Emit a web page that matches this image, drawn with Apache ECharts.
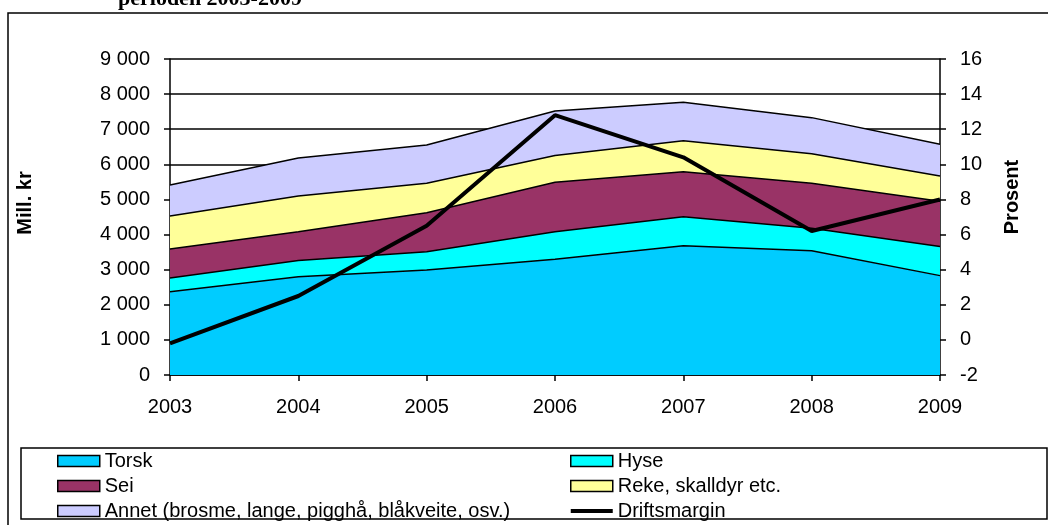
<!DOCTYPE html>
<html>
<head>
<meta charset="utf-8">
<script src="https://cdn.jsdelivr.net/npm/echarts@6/dist/echarts.min.js"></script>
<style>
html, body { margin: 0; padding: 0; background: #fff; }
#main { width: 1048px; height: 525px; }
</style>
</head>
<body>
<div id="main"></div>
<script>
var years = ['2003', '2004', '2005', '2006', '2007', '2008', '2009'];
// Mill. kr, stacked
var torsk = [2370, 2800, 2990, 3300, 3680, 3540, 2830];
var hyse = [390, 460, 520, 780, 830, 640, 830];
var sei = [830, 820, 1110, 1410, 1280, 1280, 1290];
var reke = [940, 1020, 840, 760, 880, 840, 720];
var annet = [880, 1080, 1090, 1270, 1100, 1030, 900];
// Prosent
var driftsmargin = [-0.2, 2.5, 6.5, 12.8, 10.4, 6.2, 8.0];

var font = 'Liberation Sans, Arial, sans-serif';

function areaSeries(name, data, color) {
    return {
        name: name,
        type: 'line',
        stack: 'total',
        data: data,
        symbol: 'none',
        lineStyle: { color: '#000', width: 1.5 },
        itemStyle: { color: color },
        areaStyle: { color: color, opacity: 1 }
    };
}

function legendItem(name, color) {
    return {
        name: name,
        icon: 'rect',
        itemStyle: { color: color, borderColor: '#000', borderWidth: 1.5 }
    };
}

function thousands(v) {
    return String(v).replace(/\B(?=(\d{3})+(?!\d))/g, ' ');
}

var legendBase = {
    orient: 'vertical',
    top: 451,
    height: 74,
    padding: 0,
    itemGap: 5,
    itemWidth: 42,
    itemHeight: 11,
    selectedMode: false,
    textStyle: { fontFamily: font, fontSize: 20, lineHeight: 19, color: '#000' }
};

var myChart = echarts.init(document.getElementById('main'));
var option = {
    animation: false,
    backgroundColor: '#fff',
    grid: { left: 170, right: 108, top: 59, bottom: 150 },
    legend: [
        Object.assign({}, legendBase, {
            left: 57,
            data: [legendItem('Torsk', '#00CCFF'), legendItem('Sei', '#993366'),
                legendItem('Annet (brosme, lange, pigghå, blåkveite, osv.)', '#CCCCFF')]
        }),
        Object.assign({}, legendBase, {
            left: 570,
            data: [legendItem('Hyse', '#00FFFF'), legendItem('Reke, skalldyr etc.', '#FFFF99'),
                { name: 'Driftsmargin', icon: 'path://M0,4 L42,4 L42,8 L0,8 Z', itemStyle: { color: '#000' } }]
        })
    ],
    xAxis: {
        type: 'category',
        boundaryGap: false,
        data: years,
        axisLine: { lineStyle: { color: '#000', width: 1.5 } },
        axisTick: { length: 6, lineStyle: { color: '#000', width: 1.5 } },
        axisLabel: { color: '#000', fontFamily: font, fontSize: 20, margin: 22 }
    },
    yAxis: [{
        type: 'value',
        min: 0,
        max: 9000,
        interval: 1000,
        axisLine: { show: true, lineStyle: { color: '#000', width: 1.5 } },
        axisTick: { show: true, length: 6, lineStyle: { color: '#000', width: 1.5 } },
        splitLine: { lineStyle: { color: '#000', width: 1.5 } },
        axisLabel: { color: '#000', fontFamily: font, fontSize: 20, margin: 20, formatter: thousands }
    }, {
        type: 'value',
        min: -2,
        max: 16,
        interval: 2,
        axisLine: { show: true, lineStyle: { color: '#000', width: 1.5 } },
        axisTick: { show: true, length: 6, lineStyle: { color: '#000', width: 1.5 } },
        splitLine: { show: false },
        axisLabel: { color: '#000', fontFamily: font, fontSize: 20, margin: 20 }
    }],
    series: [
        areaSeries('Torsk', torsk, '#00CCFF'),
        areaSeries('Hyse', hyse, '#00FFFF'),
        areaSeries('Sei', sei, '#993366'),
        areaSeries('Reke, skalldyr etc.', reke, '#FFFF99'),
        areaSeries('Annet (brosme, lange, pigghå, blåkveite, osv.)', annet, '#CCCCFF'),
        {
            name: 'Driftsmargin',
            type: 'line',
            yAxisIndex: 1,
            data: driftsmargin,
            symbol: 'none',
            z: 5,
            itemStyle: { color: '#000' },
            lineStyle: { color: '#000', width: 4 }
        }
    ],
    graphic: [
        {
            type: 'rect',
            shape: { x: 8, y: 13, width: 1100, height: 600 },
            style: { fill: 'none', stroke: '#000', lineWidth: 1.5 },
            z: -1
        },
        {
            type: 'rect',
            shape: { x: 21, y: 448, width: 1026, height: 71 },
            style: { fill: 'none', stroke: '#000', lineWidth: 1.5 }
        },
        {
            type: 'text',
            x: 118,
            y: 10,
            style: {
                text: 'perioden 2003-2009',
                font: 'bold 22px "Liberation Serif", "Times New Roman", serif',
                fill: '#000',
                verticalAlign: 'bottom'
            }
        },
        {
            type: 'text',
            x: 25,
            y: 203,
            rotation: Math.PI / 2,
            style: {
                text: 'Mill. kr',
                font: 'bold 20px "Liberation Sans", Arial, sans-serif',
                fill: '#000',
                align: 'center',
                verticalAlign: 'middle'
            }
        },
        {
            type: 'text',
            x: 1012,
            y: 197,
            rotation: Math.PI / 2,
            style: {
                text: 'Prosent',
                font: 'bold 20px "Liberation Sans", Arial, sans-serif',
                fill: '#000',
                align: 'center',
                verticalAlign: 'middle'
            }
        }
    ]
};
myChart.setOption(option);
</script>
</body>
</html>
